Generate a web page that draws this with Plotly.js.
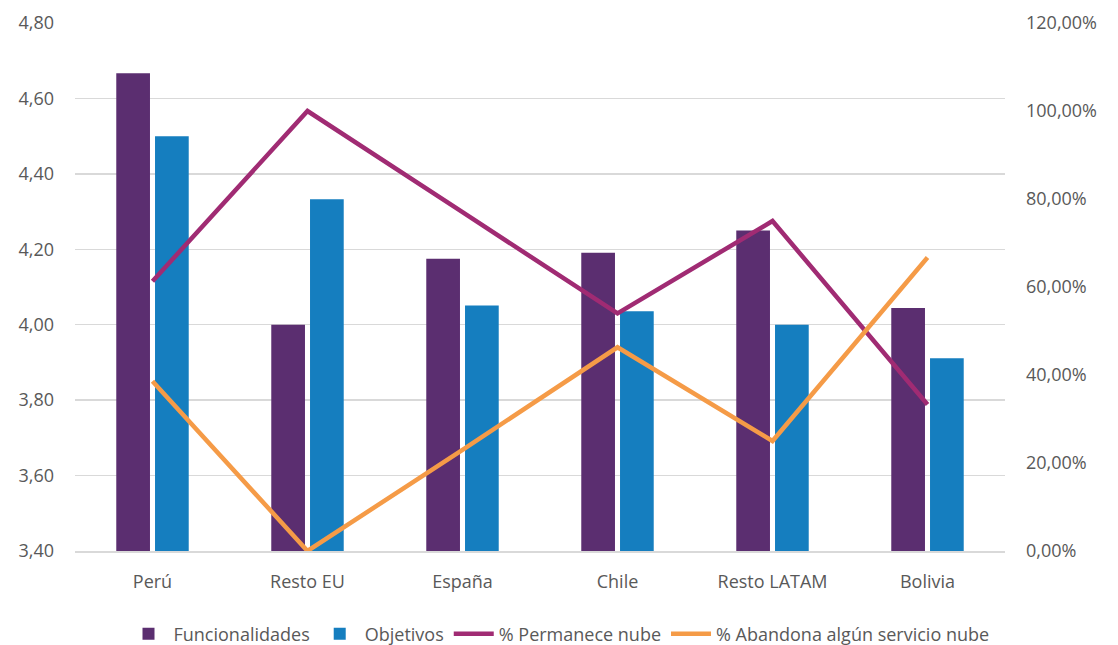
<!DOCTYPE html>
<html><head><meta charset="utf-8">
<script src="https://cdn.plot.ly/plotly-3.0.1.min.js"></script>
<style>html,body{margin:0;padding:0;background:#fff;}#chart{width:1118px;height:645px;}</style>
</head><body><div id="chart"></div>
<script>
const categories = ["Perú", "Resto EU", "España", "Chile", "Resto LATAM", "Bolivia"];
const funcionalidades = [4.667, 4.00, 4.175, 4.191, 4.25, 4.044];
const objetivos = [4.50, 4.333, 4.051, 4.036, 4.00, 3.911];
const permanece = [0.613, 1.00, 0.77, 0.54, 0.75, 0.333];
const abandona = [0.386, 0.00, 0.23, 0.463, 0.25, 0.667];
const leftTicks = [3.4, 3.6, 3.8, 4.0, 4.2, 4.4, 4.6, 4.8];
const rightTicks = [0, 0.2, 0.4, 0.6, 0.8, 1.0, 1.2];

const fontFam = "Open Sans, Liberation Sans, sans-serif";
const data = [
  {type:'bar', name:'Funcionalidades', x:categories, y:funcionalidades, marker:{color:'#5B2E70'}, yaxis:'y'},
  {type:'bar', name:'Objetivos', x:categories, y:objetivos, marker:{color:'#157EBF'}, yaxis:'y'},
  {type:'scatter', mode:'lines', name:'% Permanece nube', x:categories, y:permanece, line:{color:'#A02B73', width:4.5}, yaxis:'y2'},
  {type:'scatter', mode:'lines', name:'% Abandona algún servicio nube', x:categories, y:abandona, line:{color:'#F59B47', width:4.5}, yaxis:'y2'}
];
const layout = {
  width:1118, height:645,
  margin:{l:75, r:113, t:23, b:94, autoexpand:false},
  paper_bgcolor:'#fff', plot_bgcolor:'#fff',
  separators:',.',
  font:{family:fontFam, size:18, color:'#595959'},
  barmode:'group', bargap:0.5, bargroupgap:0.13,
  showlegend:true,
  legend:{orientation:'h', x:0.5, xanchor:'center', xref:'container', yref:'container', y:0.017, yanchor:'middle', font:{size:18, color:'#595959'}, itemwidth:40, tracegroupgap:0},
  xaxis:{showline:true, linecolor:'#d9d9d9', linewidth:1.5, ticks:'', showgrid:false, tickfont:{size:18}, ticklabelstandoff:14},
  yaxis:{range:[3.4, 4.8], tickvals:leftTicks, tickformat:'.2f', showgrid:true, gridcolor:'#d9d9d9', gridwidth:1.5, zeroline:false, ticks:'', ticklabelstandoff:20},
  yaxis2:{range:[0, 1.2], tickvals:rightTicks, tickformat:'.2%', overlaying:'y', side:'right', showgrid:false, zeroline:false, ticks:'', ticklabelstandoff:20}
};
Plotly.newPlot('chart', data, layout, {displayModeBar:false, staticPlot:true});
</script></body></html>
